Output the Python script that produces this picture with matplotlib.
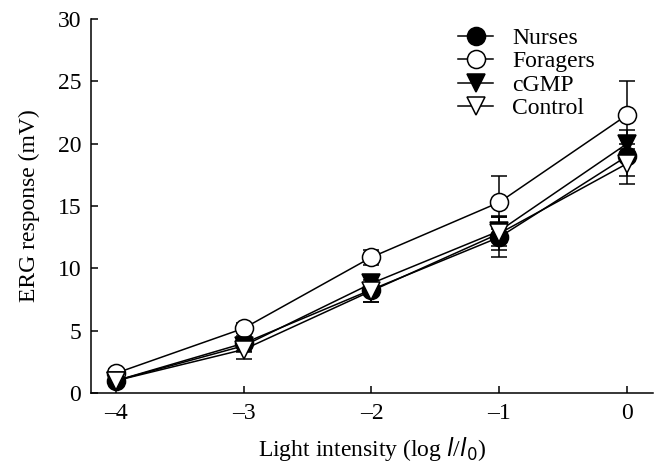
import matplotlib.pyplot as plt
import numpy as np

plt.rcParams['font.family'] = ['Liberation Serif', 'DejaVu Serif']

x = [-4, -3, -2, -1, 0]
nurses = [1.0, 4.0, 8.3, 12.5, 19.0]
nurses_err = [0.3, 0.6, 1.0, 1.6, 1.6]
foragers = [1.6, 5.2, 10.9, 15.3, 22.3]
foragers_err = [0.3, 0.4, 0.6, 2.1, 2.7]
cgmp = [1.0, 3.8, 8.8, 13.0, 20.0]
cgmp_err = [0.3, 0.5, 0.7, 1.2, 1.1]
control = [1.0, 3.5, 8.2, 12.8, 18.4]
control_err = [0.3, 0.8, 0.9, 1.3, 1.6]

fig = plt.figure(figsize=(6.59, 4.62), dpi=100)
ax = fig.add_axes([0.138, 0.149, 0.853, 0.81])

fs = 17
series = [
    (nurses, nurses_err, "Nurses", "o", "black"),
    (foragers, foragers_err, "Foragers", "o", "white"),
    (cgmp, cgmp_err, "cGMP", "v", "black"),
    (control, control_err, "Control", "v", "white"),
]
order = [3, 2, 0, 1]
handles = {}
for i in order:
    y, e, name, m, fc = series[i]
    h = ax.errorbar(x, y, yerr=e, color="black", lw=1.1, marker=m, ms=13,
                    mfc=fc, mec="black", mew=1.1, capsize=6, elinewidth=1.1,
                    capthick=1.3, label=name, zorder=3 + i)
    handles[name] = h

names = ["Nurses", "Foragers", "cGMP", "Control"]
leg = ax.legend([handles[n][0] for n in names], names, loc="upper left",
                bbox_to_anchor=(0.653, 0.977), frameon=False, fontsize=fs,
                handlelength=1.5, handletextpad=0.8, labelspacing=0.08,
                borderaxespad=0.0, borderpad=0.0)

ax.set_xlim(-4.196, 0.204)
ax.set_ylim(0, 30)
ax.set_xticks(x)
ax.set_xticklabels(["\u20134", "\u20133", "\u20132", "\u20131", "0"])
ax.set_yticks([0, 5, 10, 15, 20, 25, 30])
ax.tick_params(direction="in", labelsize=fs, length=5, width=1.1, pad=7)
ax.spines["top"].set_visible(False)
ax.spines["right"].set_visible(False)
for s in ["left", "bottom"]:
    ax.spines[s].set_linewidth(1.1)
ax.set_xlabel("Light intensity (log $\\mathit{l}$/$\\mathit{l}_0$)", fontsize=fs,
              labelpad=8)
ax.set_ylabel("ERG response (mV)", fontsize=fs, labelpad=13)

fig.savefig("out.png", dpi=100)
